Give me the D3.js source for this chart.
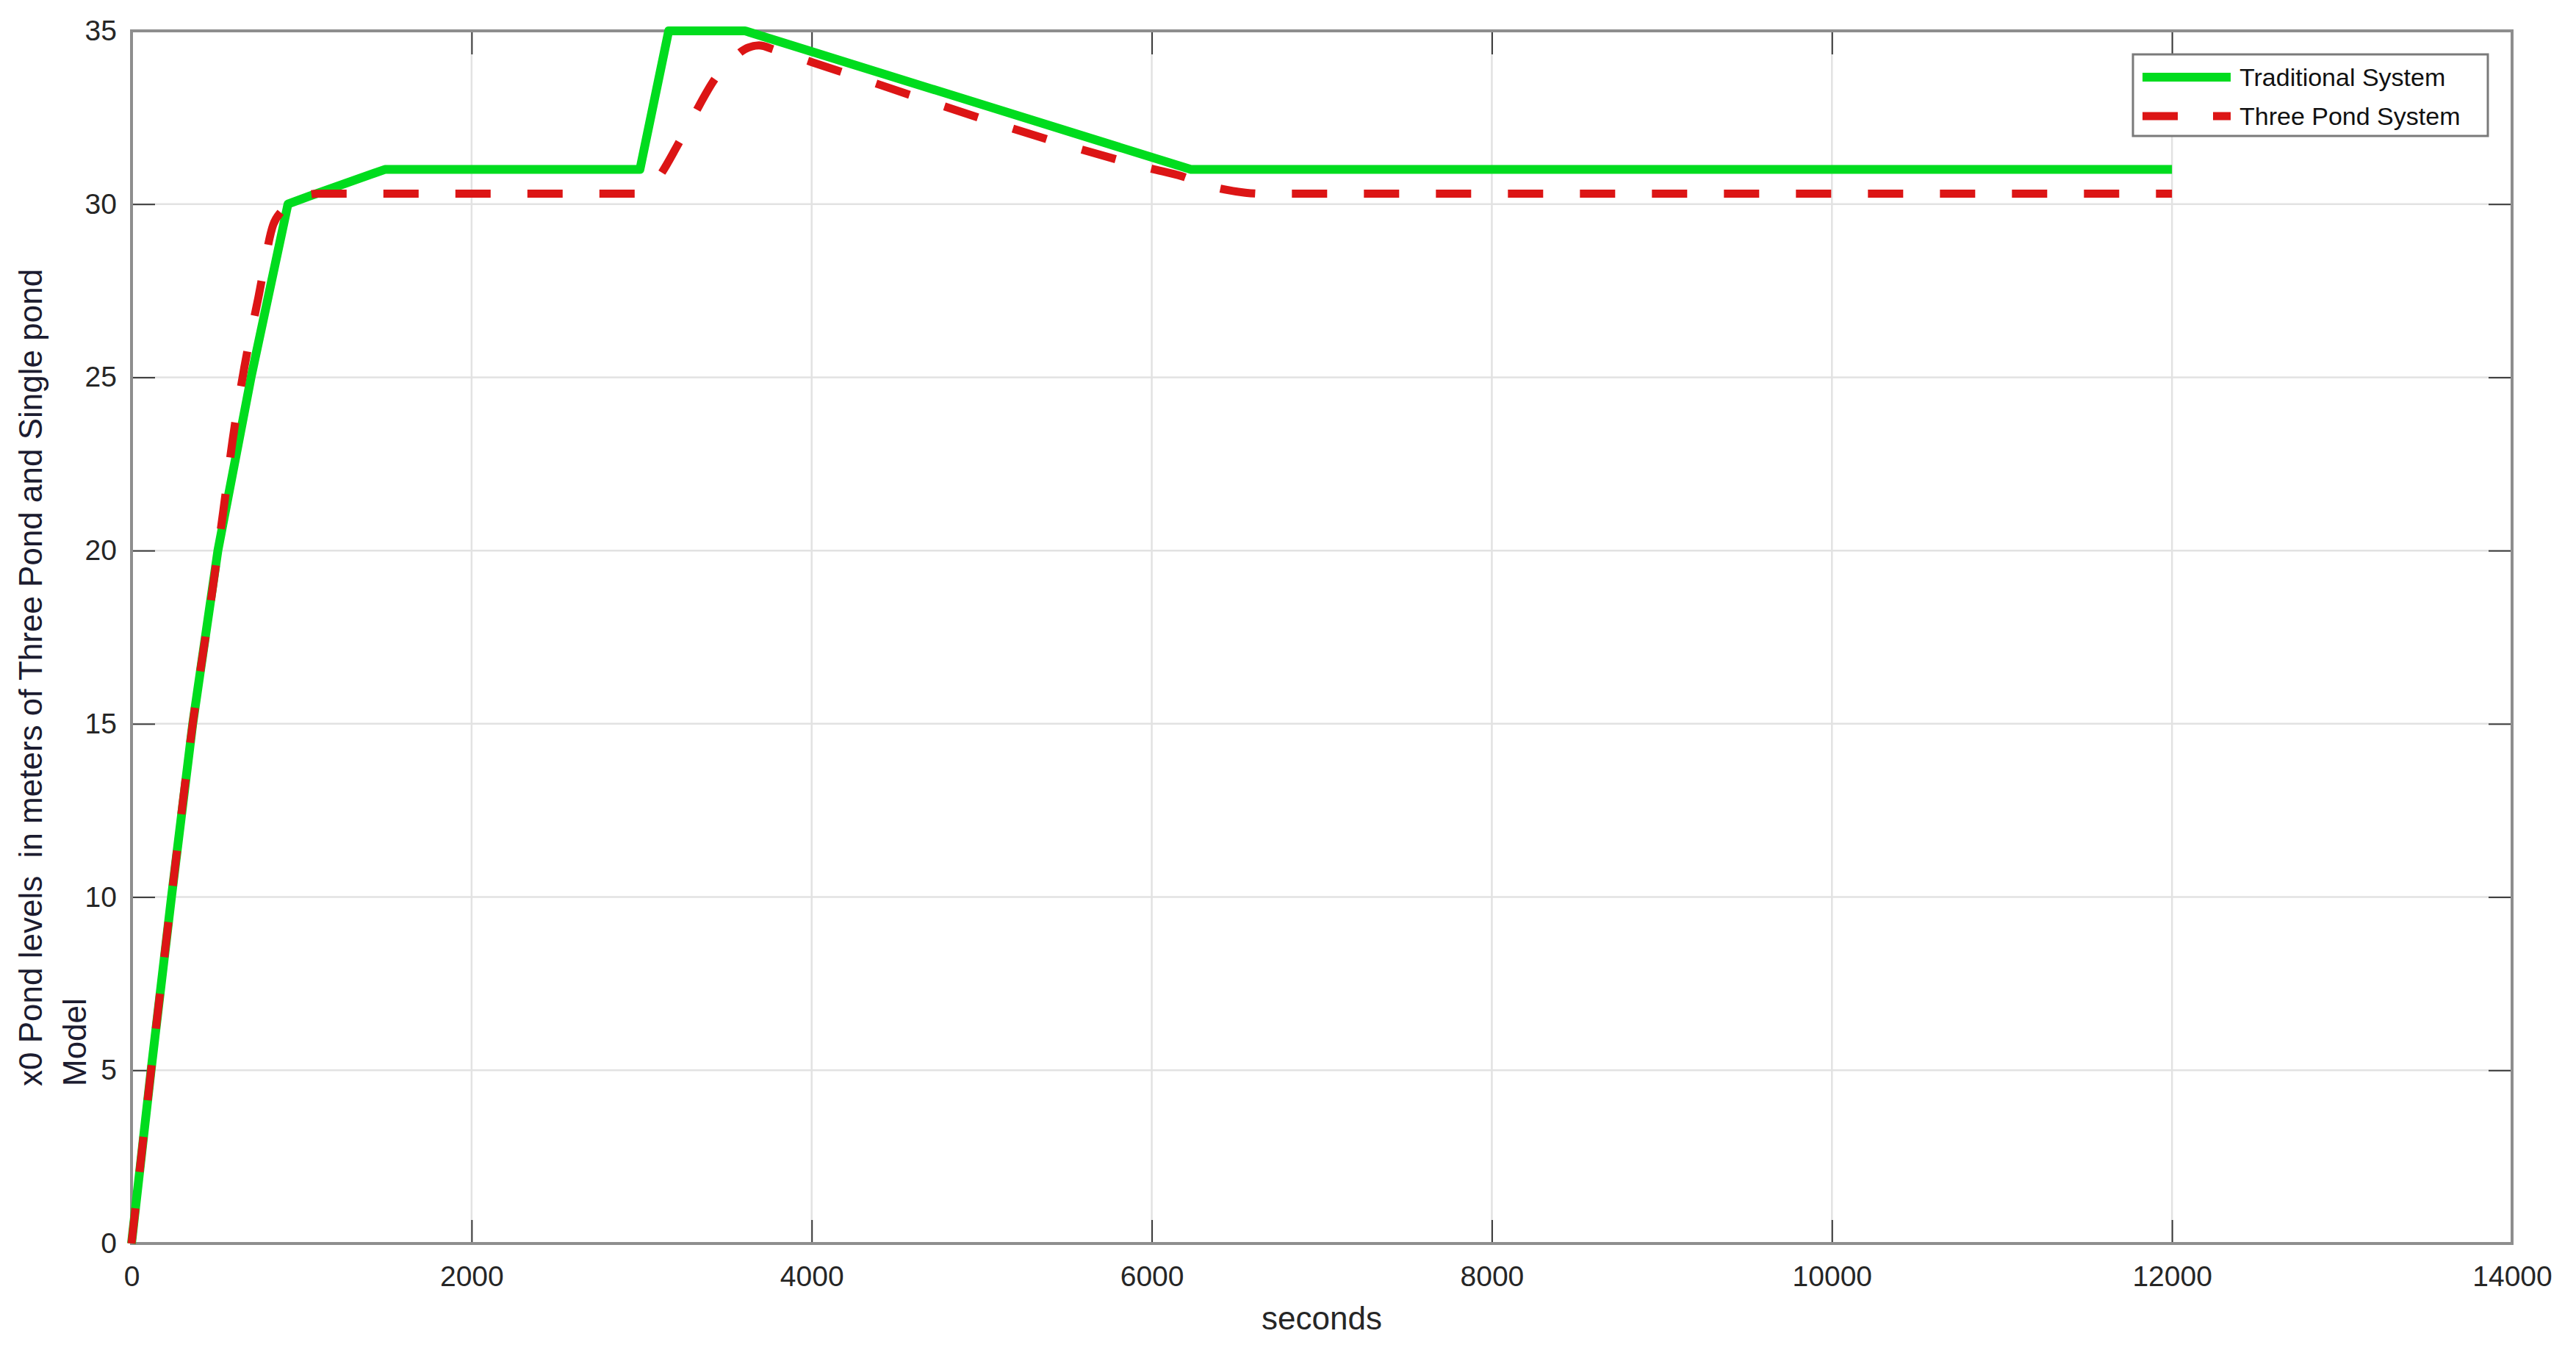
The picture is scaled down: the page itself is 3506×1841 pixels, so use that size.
<!DOCTYPE html>
<html>
<head>
<meta charset="utf-8">
<script src="https://cdn.jsdelivr.net/npm/d3@7"></script>
<style>
  html, body { margin: 0; padding: 0; background: #ffffff; }
  svg { display: block; }
  text { font-family: "Liberation Sans", Arial, Helvetica, sans-serif; }
</style>
</head>
<body>
<svg id="chart" width="3506" height="1841"></svg>
<script>
// ---------------- data ----------------
const xTicks = [0, 2000, 4000, 6000, 8000, 10000, 12000, 14000];
const yTicks = [0, 5, 10, 15, 20, 25, 30, 35];

const seriesNames = ["Traditional System", "Three Pond System"];

// Traditional System (green, solid)
const tradTime  = [0, 115, 235, 360, 508, 703, 920, 1040, 1490, 2990, 3159, 3608, 6230, 12000];
const tradLevel = [0, 5, 10, 15, 20, 25, 30, 30.22, 31, 31, 35, 35, 31, 31];

// Three Pond System (red, dashed)
const pondTime  = [0, 115, 235, 360, 480, 540, 595, 664, 746, 833, 883, 950, 1020, 1100, 2990, 3050, 3124, 3200, 3300, 3444, 3530, 3600, 3690, 3785, 4000, 6000, 6180, 6300, 6430, 6550, 6650, 12000];
const pondLevel = [0, 5, 10, 15, 19, 21.15, 23.2, 25.3, 27.3, 29.4, 29.8, 30.1, 30.25, 30.3, 30.3, 30.45, 30.95, 31.6, 32.5, 33.7, 34.15, 34.45, 34.58, 34.45, 34.1, 31.02, 30.8, 30.58, 30.42, 30.33, 30.3, 30.3];

const xLabel = "seconds";
const yLabelLines = ["x0 Pond levels  in meters of Three Pond and Single pond", "Model"];

// ---------------- layout ----------------
const L = 179, R = 3419, T = 42, B = 1692;
const svg = d3.select("#chart");

const x = d3.scaleLinear().domain([0, 14000]).range([L, R]);
const y = d3.scaleLinear().domain([0, 35]).range([B, T]);

// grid
const grid = svg.append("g");
grid.selectAll("line.vx").data(xTicks.slice(1, -1)).enter().append("line")
  .attr("x1", d => x(d)).attr("x2", d => x(d)).attr("y1", T).attr("y2", B)
  .attr("stroke", "#e2e2e2").attr("stroke-width", 2.5);
grid.selectAll("line.hy").data(yTicks.slice(1, -1)).enter().append("line")
  .attr("x1", L).attr("x2", R).attr("y1", d => y(d)).attr("y2", d => y(d))
  .attr("stroke", "#e2e2e2").attr("stroke-width", 2.5);

// axes
function styleAxis(g) {
  g.select(".domain").remove();
  g.selectAll(".tick line").attr("stroke", "#3a3a3a").attr("stroke-width", 2);
  g.selectAll(".tick text").attr("fill", "#262626").style("font-size", "39px")
    .style("font-family", "'Liberation Sans', Arial, sans-serif");
}
svg.append("g").attr("transform", `translate(0,${B})`)
  .call(d3.axisBottom(x).tickValues(xTicks).tickSizeInner(-32).tickSizeOuter(0).tickPadding(30).tickFormat(d3.format("d")))
  .call(styleAxis);
svg.append("g").attr("transform", `translate(0,${T})`)
  .call(d3.axisTop(x).tickValues(xTicks).tickSizeInner(-32).tickSizeOuter(0).tickFormat(""))
  .call(styleAxis);
svg.append("g").attr("transform", `translate(${L},0)`)
  .call(d3.axisLeft(y).tickValues(yTicks).tickSizeInner(-32).tickSizeOuter(0).tickPadding(20).tickFormat(d3.format("d")))
  .call(styleAxis);
svg.append("g").attr("transform", `translate(${R},0)`)
  .call(d3.axisRight(y).tickValues(yTicks).tickSizeInner(-32).tickSizeOuter(0).tickFormat(""))
  .call(styleAxis);

// axes box
svg.append("rect").attr("x", L).attr("y", T).attr("width", R - L).attr("height", B - T)
  .attr("fill", "none").attr("stroke", "#8e8e8e").attr("stroke-width", 4);

// lines
const tradData = tradTime.map((t, i) => [t, tradLevel[i]]);
const pondData = pondTime.map((t, i) => [t, pondLevel[i]]);

const lineLin = d3.line().x(d => x(d[0])).y(d => y(d[1])).curve(d3.curveLinear);
const lineSmooth = d3.line().x(d => x(d[0])).y(d => y(d[1])).curve(d3.curveMonotoneX);

const green = "#00dc1e", red = "#dc1515";

svg.append("path").datum(tradData).attr("d", lineLin)
  .attr("fill", "none").attr("stroke", green).attr("stroke-width", 12)
  .attr("stroke-linejoin", "round").attr("stroke-linecap", "butt");
svg.append("path").datum(pondData).attr("d", lineSmooth)
  .attr("fill", "none").attr("stroke", red).attr("stroke-width", 11)
  .attr("stroke-dasharray", "48,50").attr("stroke-linecap", "butt");

// labels
svg.append("text").attr("x", (L + R) / 2).attr("y", 1809).attr("text-anchor", "middle")
  .style("font-size", "44px").attr("fill", "#262626").text(xLabel);

const yl = svg.append("g");
yLabelLines.forEach((s, i) => {
  yl.append("text")
    .attr("transform", `translate(${57 + i * 60},1478) rotate(-90)`)
    .attr("text-anchor", "start")
    .style("font-size", "44px").style("white-space", "pre")
    .attr("xml:space", "preserve")
    .attr("fill", "#1c1c30").text(s);
});

// legend
const lg = svg.append("g");
lg.append("rect").attr("x", 2903).attr("y", 74).attr("width", 483).attr("height", 111)
  .attr("fill", "#ffffff").attr("stroke", "#7a7a7a").attr("stroke-width", 3);
const legendRows = [
  {name: seriesNames[0], color: green, w: 12, dash: null, y: 105},
  {name: seriesNames[1], color: red, w: 11, dash: "48,48", y: 158}
];
legendRows.forEach(r => {
  const ln = lg.append("line").attr("x1", 2916).attr("x2", 3036).attr("y1", r.y).attr("y2", r.y)
    .attr("stroke", r.color).attr("stroke-width", r.w);
  if (r.dash) ln.attr("stroke-dasharray", r.dash);
  lg.append("text").attr("x", 3048).attr("y", r.y + 12).style("font-size", "34px")
    .attr("fill", "#111111").text(r.name);
});
</script>
</body>
</html>
